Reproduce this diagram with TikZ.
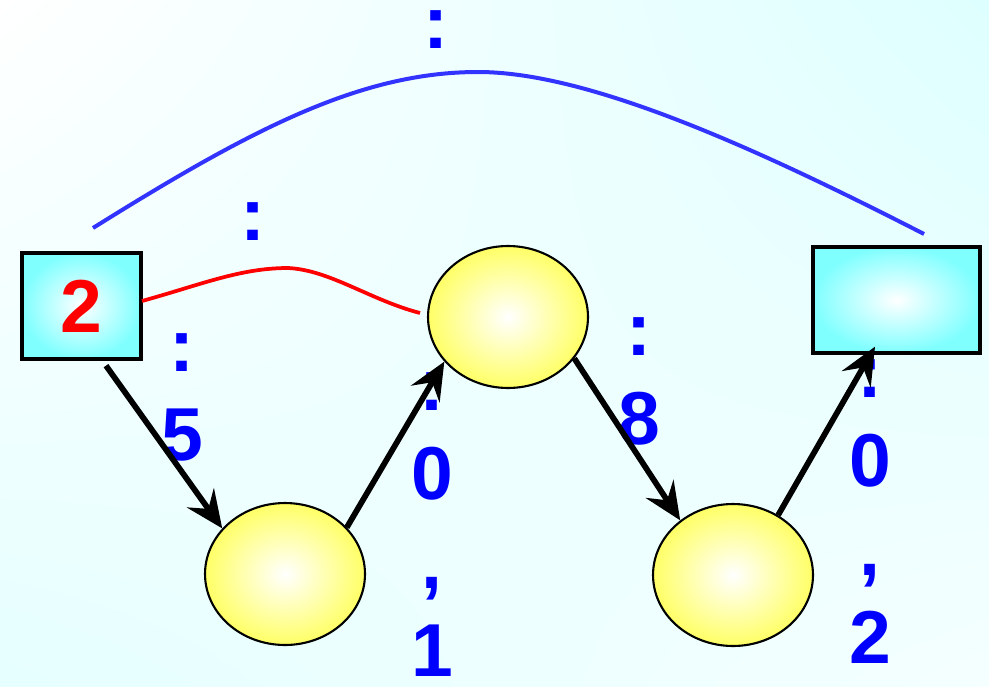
\documentclass[tikz,border=0pt]{standalone}
\usepackage{fontspec}
\setmainfont{Liberation Sans}
\usetikzlibrary{arrows.meta,shapes.geometric,shadings}

\begin{document}
\begin{tikzpicture}[
  x=0.02cm, y=-0.02cm,
  every node/.style={align=center, inner sep=0pt, font=\fontsize{42.7pt}{50.6pt}\selectfont\bfseries},
  box/.style={draw, line width=1.9pt, inner color=white, outer color=cyan!50, minimum height=2.12cm},
  ball/.style={ellipse, draw, line width=1.2pt, inner color=white, outer color=yellow!60, minimum width=3.2cm, minimum height=2.84cm},
  lab/.style={text=blue, anchor=north},
  link/.style={->, line width=0.115cm},
  >={Stealth[length=0.75cm, width=0.66cm, inset=0.27cm]}
]
\useasboundingbox (0,0) rectangle (989,686);
\shade[upper left=white, upper right=cyan!13, lower left=cyan!10, lower right=cyan!4] (0,0) rectangle (989,686);

\node[box, minimum width=2.38cm, text=red] (L) at (81.5,306) {2};
\node[box, minimum width=3.34cm] (R) at (896.5,300) {};
\node[ball] (T)  at (508,317) {};
\node[ball] (B1) at (285,574) {};
\node[ball] (B2) at (733,575) {};

\node[lab] (ltop) at (436,10)  {:};
\node[lab] (lred) at (253,202) {:};
\node[lab] (l5)   at (182,333) {:\\5};
\node[lab] (l01)  at (432,372) {:\\0\\,\\1};
\node[lab] (l8)   at (639,317) {:\\8};
\node[lab] (l02)  at (870,359) {:\\0\\,\\2};

\coordinate (bs) at (93,228);
\coordinate (bt) at (478,72);
\coordinate (be) at (924,234);
\coordinate (rs) at (142,301);
\coordinate (rt) at (288,268);
\coordinate (re) at (420,313);

\draw[blue!80, line width=0.08cm] (bs) .. controls (250,130) and (360,72) .. (bt) .. controls (590,72) and (760,150) .. (be);
\draw[red, line width=0.075cm] (rs) .. controls (200,285) and (240,268) .. (rt) .. controls (330,270) and (370,300) .. (re);

\draw[link] ([xshift=0.49cm,yshift=-0.1cm]L.south) -- (B1.144);
\draw[link] (B1.37) -- (T.215);
\draw[link] (T.-32) -- (B2.134);
\draw[link] (B2.53) -- ([xshift=-0.43cm,yshift=0.16cm]R.south);
\end{tikzpicture}
\end{document}
